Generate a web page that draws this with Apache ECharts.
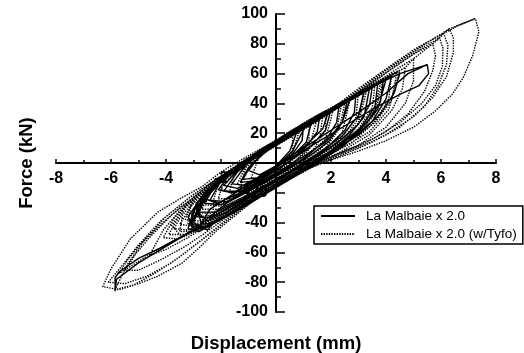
<!DOCTYPE html>
<html>
<head>
<meta charset="utf-8">
<script src="https://cdn.jsdelivr.net/npm/echarts@6/dist/echarts.min.js"></script>
<style>
  html, body { margin: 0; padding: 0; background: #fff; }
  #chart { width: 524px; height: 353px; }
</style>
</head>
<body>
<div id="chart"></div>
<script>
// displacement (mm), force (kN), one array per cycle
const bareCycles = [
  [[1.0, 25], [0.3, 17], [-0.4, 7], [-1.0, -3], [-1.3, -13], [-0.8, -12], [-0.1, -4], [0.6, 6], [0.95, 15], [1.0, 25]],
  [[1.6, 32], [0.9, 25], [0.1, 15], [-0.7, 5], [-1.4, -6], [-1.9, -19], [-1.3, -19], [-0.5, -11], [0.4, 0], [1.1, 11], [1.5, 21], [1.6, 32]],
  [[2.3, 39], [1.6, 32], [0.7, 22], [-0.3, 11], [-1.2, 0], [-2.0, -12], [-2.4, -25], [-1.8, -26], [-0.9, -17], [0, -8], [1.0, 3], [1.8, 15], [2.2, 27], [2.3, 39]],
  [[2.9, 45], [2.1, 37], [1.1, 26], [0.1, 15], [-0.9, 4], [-1.8, -8], [-2.5, -21], [-2.8, -33], [-2.2, -33], [-1.2, -24], [-0.2, -14], [0.8, -3], [1.8, 9], [2.5, 22], [2.85, 34], [2.9, 45]],
  [[3.4, 50], [2.6, 42], [1.6, 31], [0.6, 20], [-0.4, 9], [-1.4, -3], [-2.3, -16], [-2.9, -30], [-2.7, -41], [-2.2, -40], [-1.3, -30], [-0.3, -19], [0.7, -8], [1.7, 4], [2.6, 17], [3.2, 31], [3.4, 50]],
  [[3.9, 55], [3.1, 47], [2.1, 36], [1.1, 25], [0.1, 14], [-0.9, 2], [-1.9, -11], [-2.7, -26], [-3.0, -40], [-2.5, -45], [-2.3, -41], [-1.5, -33], [-0.5, -22], [0.5, -11], [1.5, 0], [2.5, 12], [3.3, 27], [3.8, 41], [3.9, 55]],
  [[4.5, 60], [3.7, 53], [2.7, 42], [1.7, 31], [0.7, 20], [-0.3, 9], [-1.3, -3], [-2.3, -17], [-3.0, -32], [-3.2, -44], [-2.8, -46], [-2.0, -38], [-1.0, -27], [0, -16], [1.0, -5], [2.0, 7], [3.0, 19], [3.8, 33], [4.3, 47], [4.5, 60]],
  [[5.5, 66], [5.55, 60], [5.2, 52], [4.5, 46], [3.6, 37], [2.6, 26], [1.6, 15], [0.6, 4], [-0.4, -7], [-1.4, -19], [-2.4, -31], [-2.8, -43],
   [-4.2, -57], [-5.0, -64], [-5.7, -73], [-5.85, -77], [-5.85, -86], [-5.8, -78], [-5.0, -67], [-4.0, -56], [-3.0, -45],
   [-2.0, -30], [-1.0, -15], [0, -2], [1.0, 10], [2.0, 22], [3.0, 34], [4.0, 47], [4.8, 60], [5.5, 66]]
];

const bareRepeatCycles = [
  [[0.8, 23], [0.2, 16], [-0.5, 7], [-1.0, -5], [-0.6, -8], [0, -2], [0.5, 8], [0.8, 23]],
  [[1.3, 28], [0.6, 21], [-0.2, 12], [-1.0, 1], [-1.6, -14], [-1.1, -15], [-0.3, -7], [0.5, 3], [1.1, 14], [1.3, 28]],
  [[2.0, 36], [1.3, 29], [0.4, 19], [-0.6, 8], [-1.5, -3], [-2.1, -18], [-1.6, -20], [-0.7, -12], [0.3, -1], [1.2, 10], [1.8, 22], [2.0, 36]],
  [[2.6, 42], [1.8, 34], [0.8, 23], [-0.2, 12], [-1.2, 1], [-2.1, -11], [-2.6, -27], [-2.0, -28], [-1.0, -19], [0, -9], [1.0, 2], [1.9, 14], [2.4, 27], [2.6, 42]],
  [[3.2, 48], [2.4, 40], [1.4, 29], [0.4, 18], [-0.6, 7], [-1.6, -5], [-2.5, -18], [-2.9, -36], [-2.4, -37], [-1.5, -28], [-0.5, -17], [0.5, -6], [1.5, 6], [2.4, 18], [3.0, 32], [3.2, 48]],
  [[3.7, 53], [2.9, 45], [1.9, 34], [0.9, 23], [-0.1, 12], [-1.1, 0], [-2.1, -13], [-2.9, -27], [-3.1, -41], [-2.6, -43], [-1.7, -34], [-0.7, -23], [0.3, -12], [1.3, -1], [2.3, 11], [3.1, 24], [3.6, 38], [3.7, 53]],
  [[4.2, 58], [3.4, 50], [2.4, 39], [1.4, 28], [0.4, 17], [-0.6, 6], [-1.6, -6], [-2.6, -20], [-3.2, -36], [-3.0, -45], [-2.4, -42], [-1.4, -31], [-0.4, -20], [0.6, -9], [1.6, 3], [2.6, 14], [3.5, 28], [4.0, 43], [4.2, 58]]
];

const bareExtraCycles = [
  [[1.1, 26], [0.4, 18], [-0.3, 9], [-0.9, -1], [-1.2, -11], [-0.7, -10], [0, -3], [0.6, 8], [1.1, 26]],
  [[1.9, 34], [1.2, 27], [0.3, 17], [-0.5, 8], [-1.3, -3], [-1.9, -15], [-1.4, -17], [-0.6, -9], [0.3, 1], [1.1, 12], [1.7, 23], [1.9, 34]],
  [[2.7, 43], [1.9, 35], [0.9, 24], [-0.1, 13], [-1.1, 2], [-2.0, -10], [-2.6, -24], [-2.1, -27], [-1.2, -19], [-0.2, -9], [0.8, 2], [1.8, 14], [2.4, 27], [2.7, 43]],
  [[3.5, 51], [2.7, 43], [1.7, 32], [0.7, 21], [-0.3, 10], [-1.3, -2], [-2.3, -15], [-2.9, -32], [-2.5, -39], [-1.8, -33], [-0.8, -21], [0.2, -10], [1.2, 1], [2.2, 13], [3.0, 26], [3.4, 39], [3.5, 51]],
  [[4.0, 56], [3.2, 48], [2.2, 37], [1.2, 26], [0.2, 15], [-0.8, 4], [-1.8, -9], [-2.7, -24], [-3.1, -42], [-2.7, -44], [-1.9, -36], [-0.9, -25], [0.1, -14], [1.1, -3], [2.1, 9], [3.0, 21], [3.7, 36], [4.0, 56]]
];

const tyfoCycles = [
  [[1.2, 28], [0.6, 22], [0, 15], [-0.6, 7], [-1.1, -2], [-1.4, -14], [-1.0, -17], [-0.4, -11], [0.2, -4], [0.8, 5], [1.2, 15], [1.2, 28]],
  [[1.8, 35], [1.2, 29], [0.4, 20], [-0.4, 10], [-1.2, 0], [-1.9, -12], [-2.1, -24], [-1.6, -24], [-0.8, -16], [0, -8], [0.8, 0], [1.4, 10], [1.8, 22], [1.8, 35]],
  [[2.4, 41], [1.6, 33], [0.6, 22], [-0.4, 11], [-1.4, -1], [-2.2, -13], [-2.6, -28], [-2.0, -29], [-1.2, -21], [-0.2, -11], [0.8, -1], [1.6, 9], [2.2, 22], [2.4, 41]],
  [[3.0, 47], [2.2, 39], [1.2, 28], [0.2, 17], [-0.8, 6], [-1.8, -6], [-2.6, -18], [-3.0, -33], [-2.4, -34], [-1.4, -25], [-0.4, -15], [0.6, -5], [1.6, 5], [2.4, 17], [2.9, 30], [3.0, 47]],
  [[3.6, 53], [2.8, 45], [1.8, 34], [0.8, 23], [-0.2, 12], [-1.2, 0], [-2.2, -12], [-3.0, -24], [-3.3, -38], [-2.8, -39], [-1.8, -30], [-0.8, -20], [0.2, -10], [1.2, 0], [2.2, 10], [3.0, 23], [3.5, 37], [3.6, 53]],
  [[4.2, 59], [3.4, 51], [2.4, 40], [1.4, 29], [0.4, 18], [-0.6, 7], [-1.6, -5], [-2.6, -18], [-3.3, -30], [-3.7, -44], [-3.2, -45], [-2.2, -36], [-1.2, -26], [-0.2, -16], [0.8, -6], [1.8, 4], [2.8, 14], [3.6, 28], [4.1, 43], [4.2, 59]],
  [[4.7, 64], [3.9, 57], [2.9, 46], [1.9, 35], [0.9, 24], [-0.1, 13], [-1.1, 2], [-2.1, -10], [-3.0, -23], [-3.7, -37], [-4.1, -50], [-3.6, -51], [-2.6, -42], [-1.6, -32], [-0.6, -22], [0.4, -12], [1.4, -2], [2.4, 8], [3.4, 19], [4.2, 35], [4.6, 50], [4.7, 64]],
  [[5.0, 70], [4.3, 62], [3.5, 52], [2.5, 40], [1.5, 28], [0.5, 17], [-0.5, 6], [-1.5, -5], [-2.5, -17], [-3.5, -32], [-4.1, -45], [-4.6, -62], [-4.0, -58], [-3.2, -50], [-2.4, -41], [-1.6, -31], [-0.8, -21], [0, -12], [1.0, -4], [2.0, 4], [3.0, 12], [4.0, 24], [4.7, 40], [5.0, 55], [5.0, 70]],
  [[5.7, 80], [5.0, 73], [4.2, 63], [3.2, 50], [2.2, 37], [1.2, 25], [0.2, 14], [-0.8, 3], [-1.8, -8], [-2.8, -20], [-3.8, -35], [-4.6, -50], [-5.1, -61], [-5.5, -72],
   [-5.0, -72], [-4.2, -65], [-3.3, -56], [-2.5, -46], [-1.7, -35], [-0.9, -24], [0, -13], [1.0, -4], [2.0, 4], [3.0, 11], [4.0, 21], [4.8, 33], [5.4, 48], [5.7, 62], [5.8, 72], [5.7, 80]],
  [[5.95, 84], [5.3, 77], [4.5, 67], [3.5, 54], [2.5, 41], [1.5, 28], [0.5, 17], [-0.5, 6], [-1.5, -5], [-2.5, -17], [-3.5, -30], [-4.4, -45], [-5.0, -56], [-5.4, -65], [-5.7, -74],
   [-5.0, -66], [-4.2, -57], [-3.4, -49], [-2.7, -41], [-2.0, -33], [-1.2, -23], [-0.4, -14], [0.5, -6], [1.5, 1], [2.5, 8], [3.5, 16], [4.5, 27], [5.3, 40], [5.8, 52], [6.05, 65], [6.07, 77], [5.95, 84]],
  [[6.1, 87], [5.4, 80], [4.6, 70], [3.8, 60], [2.8, 46], [1.8, 33], [0.8, 21], [-0.2, 10], [-1.2, 0], [-2.2, -11], [-3.2, -24], [-4.2, -39], [-5.0, -55], [-5.6, -69], [-6.1, -80],
   [-5.5, -81], [-4.7, -76], [-3.8, -67], [-3.0, -56], [-2.3, -46], [-1.4, -33], [-0.5, -21], [0.5, -10], [1.5, -1], [2.5, 6], [3.5, 14], [4.5, 24], [5.4, 38], [5.9, 52], [6.2, 66], [6.25, 79], [6.1, 87]],
  [[6.3, 90], [5.6, 82], [4.8, 72], [4.0, 62], [3.0, 48], [2.0, 35], [1.0, 23], [0, 12], [-1.0, 2], [-2.0, -9], [-3.0, -21], [-4.0, -36], [-4.8, -52], [-5.4, -68], [-5.85, -85],
   [-5.2, -82], [-4.4, -74], [-3.5, -63], [-2.6, -50], [-1.8, -38], [-1.0, -26], [0, -14], [1.0, -5], [2.0, 3], [3.0, 10], [4.0, 19], [5.0, 31], [5.7, 44], [6.2, 58], [6.45, 74], [6.45, 84], [6.3, 90]],
  [[7.25, 97], [6.6, 92], [5.8, 84], [5.0, 76], [4.3, 67], [3.0, 50], [2.0, 36], [1.0, 24], [0, 15], [-1.0, 5], [-2.0, -6], [-2.7, -16], [-3.4, -23], [-4.3, -33], [-5.3, -51], [-6.0, -71], [-6.3, -83],
   [-5.7, -85], [-5.0, -81], [-4.3, -76], [-3.4, -67], [-2.8, -57], [-2.2, -46], [-1.0, -28], [0, -15], [1.0, -5], [2.0, 2], [3.0, 8], [4.0, 15], [5.0, 24], [5.8, 35], [6.4, 46], [6.8, 57], [7.15, 72], [7.38, 88], [7.25, 97]]
];

const tyfoRepeatCycles = [
  [[0.6, 20], [0, 13], [-0.6, 5], [-0.9, -10], [-0.4, -11], [0.2, -3], [0.6, 8], [0.6, 20]],
  [[1.5, 30], [0.8, 23], [0, 14], [-0.8, 5], [-1.5, -6], [-1.7, -20], [-1.1, -19], [-0.3, -11], [0.5, -2], [1.2, 10], [1.5, 30]],
  [[2.1, 37], [1.3, 29], [0.4, 19], [-0.5, 9], [-1.4, -2], [-2.1, -14], [-2.3, -27], [-1.7, -26], [-0.8, -17], [0.2, -7], [1.1, 4], [1.8, 16], [2.1, 37]],
  [[2.7, 43], [1.9, 35], [0.9, 24], [-0.1, 13], [-1.1, 2], [-2.0, -10], [-2.7, -23], [-2.8, -36], [-2.2, -35], [-1.2, -25], [-0.2, -14], [0.8, -3], [1.7, 8], [2.4, 20], [2.7, 43]],
  [[3.3, 49], [2.5, 41], [1.5, 30], [0.5, 19], [-0.5, 8], [-1.5, -4], [-2.4, -16], [-3.1, -29], [-3.2, -41], [-2.6, -40], [-1.6, -30], [-0.6, -19], [0.4, -8], [1.4, 3], [2.4, 14], [3.0, 27], [3.3, 49]],
  [[3.9, 56], [3.1, 48], [2.1, 37], [1.1, 26], [0.1, 15], [-0.9, 4], [-1.9, -8], [-2.8, -21], [-3.4, -35], [-3.5, -46], [-3.0, -46], [-2.0, -36], [-1.0, -25], [0, -14], [1.0, -3], [2.0, 8], [3.0, 19], [3.6, 33], [3.9, 56]],
  [[4.4, 61], [3.6, 54], [2.6, 43], [1.6, 32], [0.6, 21], [-0.4, 10], [-1.4, -2], [-2.4, -14], [-3.3, -28], [-3.9, -48], [-3.3, -48], [-2.3, -38], [-1.3, -28], [-0.3, -17], [0.7, -6], [1.7, 5], [2.7, 15], [3.6, 27], [4.2, 42], [4.4, 61]]
];

const tyfoExtraCycles = [
  [[0.9, 24], [0.3, 17], [-0.4, 8], [-1.1, -3], [-1.3, -17], [-0.8, -16], [-0.1, -8], [0.5, 2], [0.9, 24]],
  [[1.7, 32], [1.0, 25], [0.2, 16], [-0.6, 7], [-1.4, -4], [-2.0, -17], [-1.4, -22], [-0.6, -14], [0.3, -4], [1.1, 7], [1.6, 18], [1.7, 32]],
  [[2.5, 40], [1.7, 32], [0.7, 21], [-0.3, 11], [-1.3, -1], [-2.2, -14], [-2.7, -31], [-2.1, -31], [-1.1, -22], [-0.1, -12], [0.9, -1], [1.8, 10], [2.3, 23], [2.5, 40]],
  [[3.2, 47], [2.4, 39], [1.4, 28], [0.4, 17], [-0.6, 6], [-1.6, -6], [-2.6, -20], [-3.1, -35], [-2.5, -37], [-1.5, -27], [-0.5, -16], [0.5, -5], [1.5, 6], [2.5, 17], [3.0, 30], [3.2, 47]],
  [[3.8, 54], [3.0, 46], [2.0, 35], [1.0, 24], [0, 13], [-1.0, 2], [-2.0, -10], [-2.9, -24], [-3.5, -41], [-2.9, -43], [-1.9, -33], [-0.9, -22], [0.1, -11], [1.1, 0], [2.1, 11], [3.0, 22], [3.6, 36], [3.8, 54]],
  [[4.5, 62], [3.7, 55], [2.7, 44], [1.7, 33], [0.7, 22], [-0.3, 11], [-1.3, -1], [-2.3, -13], [-3.2, -27], [-3.8, -42], [-3.4, -50], [-2.6, -43], [-1.6, -33], [-0.6, -22], [0.4, -11], [1.4, 0], [2.4, 10], [3.4, 21], [4.1, 36], [4.5, 62]]
];

const seriesNames = ['La Malbaie x 2.0', 'La Malbaie x 2.0 (w/Tyfo)'];
const hiddenTickValues = [0];

const barePath = [...bareRepeatCycles, ...bareExtraCycles, ...bareCycles].flat();
const tyfoPath = [...tyfoRepeatCycles, ...tyfoExtraCycles, ...tyfoCycles].flat();

const font = 'Arial, "Liberation Sans", sans-serif';
const chart = echarts.init(document.getElementById('chart'));

const tickLabel = {
  margin: 8,
  fontFamily: font,
  fontWeight: 'bold',
  fontSize: 16,
  color: '#000',
  formatter: (v) => (hiddenTickValues.includes(v) ? '' : String(v))
};
const axisName = { fontFamily: font, fontWeight: 'bold', fontSize: 18.5, color: '#000' };

chart.setOption({
  animation: false,
  backgroundColor: '#fff',
  grid: { left: 56, right: 28, top: 14, bottom: 41, outerBoundsMode: 'none' },
  xAxis: {
    type: 'value',
    min: -8,
    max: 8,
    interval: 2,
    offset: -149,
    name: 'Displacement (mm)',
    nameLocation: 'middle',
    nameGap: 171,
    nameTextStyle: axisName,
    axisLine: { onZero: false, lineStyle: { color: '#000', width: 2 } },
    axisTick: { inside: true, length: 4, lineStyle: { color: '#000', width: 1.5 } },
    minorTick: { show: true, splitNumber: 2, length: 3, lineStyle: { color: '#000', width: 1.5 } },
    splitLine: { show: false },
    axisLabel: tickLabel
  },
  yAxis: {
    type: 'value',
    min: -100,
    max: 100,
    interval: 20,
    offset: -220,
    name: 'Force (kN)',
    nameLocation: 'middle',
    nameGap: 240,
    nameTextStyle: axisName,
    axisLine: { onZero: false, lineStyle: { color: '#000', width: 2 } },
    axisTick: { inside: true, length: 9, lineStyle: { color: '#000', width: 1.5 } },
    minorTick: { show: true, splitNumber: 2, length: 5, lineStyle: { color: '#000', width: 1.5 } },
    splitLine: { show: false },
    axisLabel: tickLabel
  },
  legend: {
    orient: 'vertical',
    left: 314,
    top: 206,
    padding: [3, 6, 3, 6],
    itemWidth: 34,
    itemHeight: 14,
    itemGap: 4,
    borderColor: '#000',
    borderWidth: 1.5,
    borderRadius: 0,
    backgroundColor: '#fff',
    itemStyle: { opacity: 0 },
    textStyle: { fontFamily: font, fontSize: 13.5, color: '#000', padding: [0, 0, 0, 6] },
    data: seriesNames
  },
  series: [
    {
      name: seriesNames[0],
      type: 'line',
      data: barePath,
      symbol: 'none',
      color: '#000',
      z: 3,
      lineStyle: { color: '#000', width: 1.4 }
    },
    {
      name: seriesNames[1],
      type: 'line',
      data: tyfoPath,
      symbol: 'none',
      color: '#000',
      z: 2,
      lineStyle: { color: '#000', width: 1.4, type: [1.4, 1.2] }
    }
  ]
});
</script>
</body>
</html>
